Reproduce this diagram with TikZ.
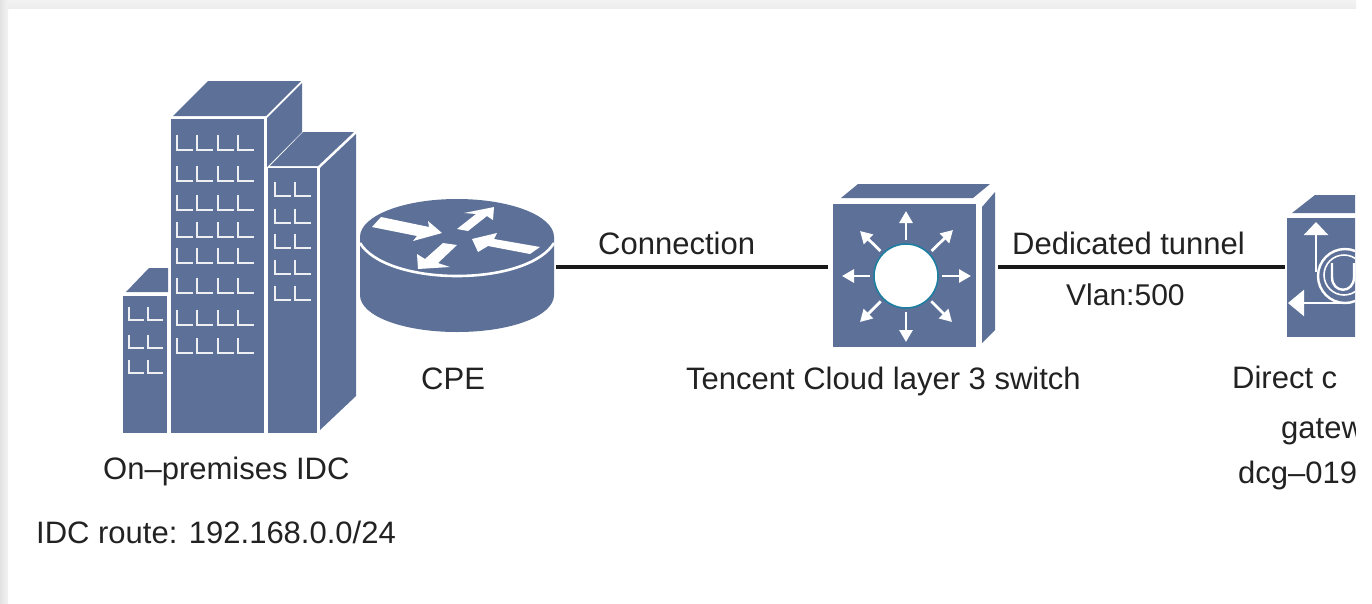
\documentclass[tikz,border=0pt]{standalone}
\usepackage{fontspec}
\setmainfont{Liberation Sans}
\usetikzlibrary{arrows.meta,shadings}
\definecolor{iconblue}{HTML}{5C7098}
\definecolor{winwhite}{HTML}{EDEFF3}
\definecolor{inktext}{HTML}{222222}
\definecolor{hubedge}{HTML}{1C7FA0}
\tikzset{
  x=1pt,y=-1pt,
  solid fill/.style={fill=iconblue,draw=none},
  window/.style={draw=winwhite,line width=2pt,line cap=butt},
  label/.style={anchor=base west,inner sep=0pt,text=inktext,font=\fontsize{31}{36}\selectfont},
  link/.style={draw=black!90,line width=3.2pt},
  anchorbox/.style={minimum height=2pt,inner sep=0pt,outer sep=0pt},
  ray/.style={draw=white,line width=2.8pt,shorten <=3pt,-{Triangle[width=13pt,length=12pt]}},
  ringline/.style={draw=white,line width=2.4pt}
}
\begin{document}
\begin{tikzpicture}
\useasboundingbox (0,0) rectangle (1372,603);
\fill[white] (0,0) rectangle (1372,603);
% card shadow
\shade[left color=black!11,right color=black!5] (0,0) rectangle (8,603);
\shade[top color=black!5,bottom color=black!7] (8,0) rectangle (1356,8);

% buildings
\fill[solid fill] (171,119) rectangle (264,433);
\fill[solid fill] (173,116) -- (208,81) -- (301,81) -- (266,116) -- cycle;
\fill[solid fill] (267,118) -- (302,83) -- (302,132) -- (267,167) -- cycle;
\fill[solid fill] (268,168) rectangle (317,433);
\fill[solid fill] (270,166) -- (303,132) -- (354,132) -- (318,166) -- cycle;
\fill[solid fill] (320,168) -- (356,134) -- (356,396) -- (320,430) -- cycle;
\fill[solid fill] (123,296) rectangle (167,433);
\fill[solid fill] (126,292) -- (149,268) -- (168,268) -- (168,292) -- cycle;
\foreach \wy in {150,181,210,237,263,293,325,353}
  \foreach \wx in {177,197,218,238}
    \draw[window] (\wx,\wy-15) -- (\wx,\wy) -- (\wx+16,\wy);
\foreach \wy in {196,223,248,274,300}
  \foreach \wx in {275,295}
    \draw[window] (\wx,\wy-14) -- (\wx,\wy) -- (\wx+16,\wy);
\foreach \wy in {320,348,373}
  \foreach \wx in {129,148}
    \draw[window] (\wx,\wy-13) -- (\wx,\wy) -- (\wx+15,\wy);

% router
\fill[solid fill] (360,237) -- (360,295)
  .. controls (360,316) and (403,332) .. (457,332)
  .. controls (511,332) and (554,316) .. (554,295) -- (554,237)
  .. controls (554,216) and (511,199) .. (457,199)
  .. controls (403,199) and (360,216) .. (360,237) -- cycle;
\draw[ringline,line width=2.6pt] (360,243) .. controls (372,263) and (411,276) .. (457,276)
  .. controls (503,276) and (542,263) .. (554,243);
\fill[white] (381,217) -- (429,227) -- (428,221) -- (442,233) -- (413,241) -- (417,236) -- (372,227) -- cycle;
\fill[white] (494,207) -- (493,220) -- (487,216) -- (468,231) -- (457,229) -- (476,214) -- (464,213) -- cycle;
\fill[white] (472,239) -- (497,233) -- (494,239) -- (540,247) -- (530,254) -- (488,246) -- (478,252) -- cycle;
\fill[white] (418,269) -- (417,254) -- (425,259) -- (443,243) -- (457,245) -- (438,263) -- (450,267) -- cycle;
\node[anchorbox,minimum width=198pt] (cpe) at (457,267) {};

% layer 3 switch
\fill[solid fill] (833,204) rectangle (976,347);
\fill[solid fill] (841,198) -- (858,184) -- (990,184) -- (973,198) -- cycle;
\fill[solid fill] (982,207) -- (995,192) -- (995,330) -- (982,343) -- cycle;
\node[circle,fill=white,draw=hubedge,line width=1.6pt,minimum size=64pt,inner sep=0pt] (hub) at (906,276) {};
\coordinate (rayN) at (906,211);
\coordinate (rayS) at (906,342);
\coordinate (rayE) at (971,276);
\coordinate (rayW) at (842,276);
\coordinate (rayNE) at (953,230);
\coordinate (rayNW) at (860,231);
\coordinate (raySE) at (952,322);
\coordinate (raySW) at (860,322);
\foreach \t in {rayN,rayS,rayE,rayW,rayNE,rayNW,raySE,raySW}
  \draw[ray] (hub) -- (\t);
\node[anchorbox,minimum width=170pt] (sw) at (913,267) {};

% gateway (cut off by the picture edge)
\begin{scope}
\clip (1200,180) rectangle (1355,500);
\fill[solid fill] (1287,218) rectangle (1360,337);
\fill[solid fill] (1292,213) -- (1315,195) -- (1360,195) -- (1360,213) -- cycle;
\draw[ringline] (1345,276) circle[radius=27];
\draw[ringline,line width=1.6pt] (1344,275) circle[radius=20];
\draw[ringline,-{Triangle[width=24pt,length=13pt]}] (1316,272) -- (1316,222);
\draw[ringline,-{Triangle[width=26pt,length=16pt]}] (1350,303) -- (1288,303);
\draw[ringline] (1332,263) -- (1332,277) .. controls (1332,294) and (1354,294) .. (1354,277) -- (1354,263);
\node[label] (gw1) at (1232,388) {Direct c};
\node[label] (gw2) at (1281,438) {gatew};
\node[label] (gw3) at (1238,483) {dcg–019};
\end{scope}
\node[anchorbox,minimum width=100pt] (gw) at (1335,267) {};

% connectors
\draw[link] (cpe) -- (sw);
\draw[link] (sw) -- (gw);

% labels
\node[label] (lconn) at (598,254) {Connection};
\node[label] (ltun) at (1012,254) {Dedicated tunnel};
\node[label,font=\fontsize{30}{36}\selectfont] (lvlan) at (1066,305) {Vlan:500};
\node[label] (lcpe) at (421,389) {CPE};
\node[label] (lsw) at (686,389) {Tencent Cloud layer 3 switch};
\node[label] (lidc) at (103,479) {On–premises IDC};
\node[label] (lroute) at (36,543) {IDC route: 192.168.0.0/24};
\end{tikzpicture}
\end{document}
